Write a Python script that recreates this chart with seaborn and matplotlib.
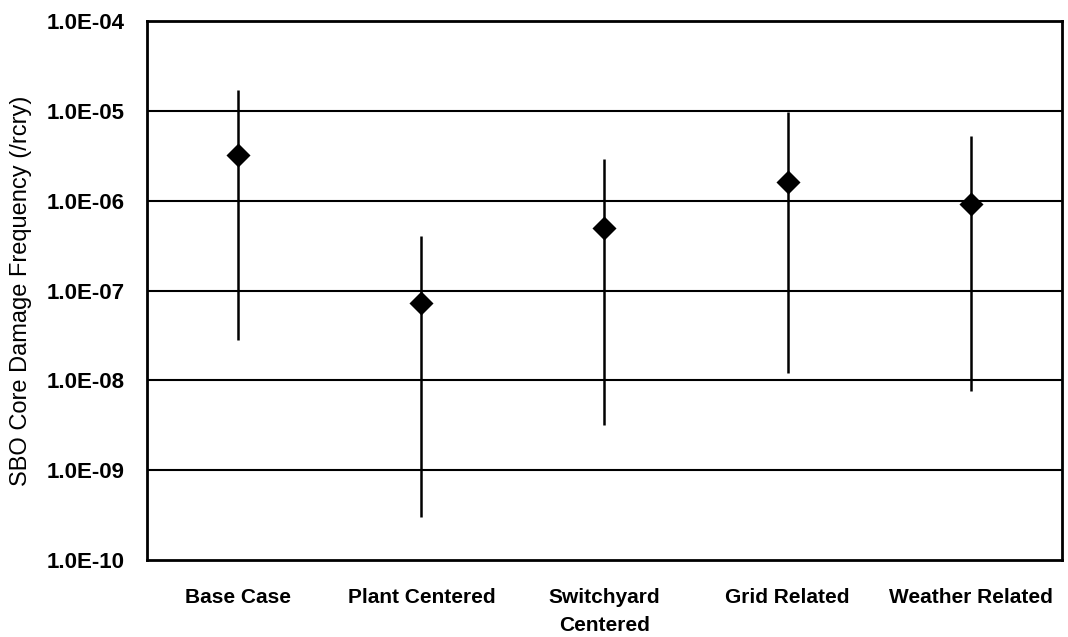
import numpy as np
import pandas as pd
import matplotlib
matplotlib.use("Agg")
import matplotlib.pyplot as plt
import seaborn as sns
from matplotlib.ticker import FixedLocator, NullLocator

# Data
categories = ["Base Case", "Plant Centered", "Switchyard\nCentered", "Grid Related", "Weather Related"]
point_est = [3.2e-6, 7.3e-8, 5.0e-7, 1.6e-6, 9.3e-7]
upper = [1.7e-5, 4.0e-7, 2.9e-6, 9.8e-6, 5.3e-6]
lower = [2.8e-8, 3.0e-10, 3.2e-9, 1.2e-8, 7.6e-9]
y_ticks = [1e-10, 1e-9, 1e-8, 1e-7, 1e-6, 1e-5, 1e-4]
y_tick_labels = ["1.0E-10", "1.0E-09", "1.0E-08", "1.0E-07", "1.0E-06", "1.0E-05", "1.0E-04"]

df = pd.DataFrame({"case": categories, "cdf": point_est, "lo": lower, "hi": upper})
df["x"] = np.arange(len(df))

sns.set_style("white")
plt.rcParams['font.family'] = ['Liberation Sans', 'DejaVu Sans']
plt.rcParams['text.color'] = 'black'
plt.rcParams['axes.labelcolor'] = 'black'
plt.rcParams['xtick.color'] = 'black'
plt.rcParams['ytick.color'] = 'black'

fig = plt.figure(figsize=(10.68, 6.37), dpi=100)
ax = fig.add_axes([0.1376, 0.1209, 0.8568, 0.8461])

# uncertainty ranges
ax.vlines(df["x"], df["lo"], df["hi"], color="black", linewidth=1.8, zorder=3)

# point estimates
sns.scatterplot(data=df, x="x", y="cdf", marker="D", s=150, color="black",
                edgecolor="black", linewidth=0, zorder=4, ax=ax, legend=False)

ax.set_yscale("log")
ax.set_ylim(1e-10, 1e-4)
ax.set_xlim(-0.5, len(df) - 0.5)

ax.yaxis.set_major_locator(FixedLocator(y_ticks))
ax.yaxis.set_minor_locator(NullLocator())
ax.set_yticklabels(y_tick_labels, fontsize=16, fontweight="bold")
ax.set_xticks(df["x"])
ax.set_xticklabels(df["case"], fontsize=15, fontweight="bold", linespacing=1.6)
ax.tick_params(axis="both", length=0)
ax.tick_params(axis="y", pad=16)
ax.tick_params(axis="x", pad=20)

for t in y_ticks[1:-1]:
    ax.axhline(t, color="black", linewidth=1.5, zorder=1)

for side in ax.spines.values():
    side.set_color("black")
    side.set_linewidth(2)

ax.set_xlabel("")
ax.set_ylabel("SBO Core Damage Frequency (/rcry)", fontsize=17)
ax.yaxis.set_label_coords(-0.126, 0.5)

fig.savefig("out.png", dpi=100)
